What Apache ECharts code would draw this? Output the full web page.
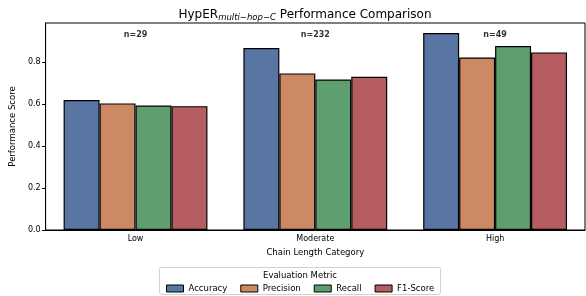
<!DOCTYPE html>
<html lang="en">
<head>
    <meta charset="UTF-8">
    <title>HypER multi-hop-C Performance Comparison</title>
    <script src="https://cdn.jsdelivr.net/npm/echarts@6.0.0/dist/echarts.min.js"></script>
    <style>
        html, body { margin: 0; padding: 0; background: #fff; }
        #chart { width: 586px; height: 296px; }
    </style>
</head>
<body>
    <div id="chart"></div>
    <script>
        // data
        const categories = ['Low', 'Moderate', 'High'];
        const sampleCounts = ['n=29', 'n=232', 'n=49'];
        const metrics = ['Accuracy', 'Precision', 'Recall', 'F1-Score'];
        const accuracy = [0.619, 0.867, 0.938];
        const precision = [0.603, 0.746, 0.822];
        const recall = [0.593, 0.717, 0.876];
        const f1Score = [0.590, 0.730, 0.846];
        const yTicks = [0, 0.2, 0.4, 0.6, 0.8];
        const countLabelY = [0.93, 0.93, 0.93];

        const colors = ['#5975a4', '#cc8963', '#5f9e6e', '#b55d60'];
        const font = 'DejaVu Sans';
        const seriesValues = [accuracy, precision, recall, f1Score];

        const myChart = echarts.init(document.getElementById('chart'));

        const barSeries = metrics.map((name, i) => ({
            name: name,
            type: 'bar',
            data: seriesValues[i],
            barGap: '0%',
            barCategoryGap: '20%',
            itemStyle: { color: colors[i], borderColor: '#000', borderWidth: 1.2 }
        }));

        const option = {
            animation: false,
            textStyle: { fontFamily: font },
            title: {
                text: '{a|HypER}{s|multi−hop−C}{a| Performance Comparison}',
                left: 300,
                top: 2,
                textAlign: 'center',
                textStyle: {
                    fontWeight: 'normal',
                    rich: {
                        a: { fontSize: 12, fontFamily: font, fontWeight: 'normal', color: '#000' },
                        s: { fontSize: 8.5, fontFamily: font, fontStyle: 'italic', fontWeight: 'normal', color: '#000', verticalAlign: 'bottom', padding: [6, 0, 0, 0] }
                    }
                }
            },
            grid: {
                left: 45, right: 1, top: 23, bottom: 66,
                show: true, borderColor: '#000', borderWidth: 1
            },
            legend: {
                data: metrics,
                left: 161,
                top: 279,
                icon: 'rect',
                itemWidth: 17,
                itemHeight: 7,
                itemGap: 13,
                itemStyle: { borderColor: '#000', borderWidth: 1 },
                textStyle: { fontSize: 8.5, fontFamily: font, color: '#000' }
            },
            xAxis: {
                type: 'category',
                data: categories,
                name: 'Chain Length Category',
                nameLocation: 'middle',
                nameGap: 17,
                nameTextStyle: { fontSize: 8.5, color: '#000' },
                axisLine: { lineStyle: { color: '#000' } },
                axisTick: { alignWithLabel: true, length: 3.5, lineStyle: { color: '#000' } },
                axisLabel: { fontSize: 8, color: '#000', margin: 5 }
            },
            yAxis: {
                type: 'value',
                min: 0,
                max: 0.986,
                name: 'Performance Score',
                nameLocation: 'middle',
                nameGap: 26,
                nameTextStyle: { fontSize: 8.5, color: '#000' },
                splitLine: { show: false },
                axisLine: { show: true, lineStyle: { color: '#000' } },
                axisTick: { show: true, length: 3.5, customValues: yTicks, lineStyle: { color: '#000' } },
                axisLabel: {
                    fontSize: 8, color: '#000', margin: 5,
                    customValues: yTicks,
                    formatter: v => v.toFixed(1)
                }
            },
            graphic: [
                {
                    type: 'rect',
                    shape: { x: 159.5, y: 267.5, width: 281, height: 27, r: 2 },
                    style: { fill: '#fff', stroke: '#d0d0d0', lineWidth: 1 },
                    z: -1
                },
                {
                    type: 'text',
                    style: { text: 'Evaluation Metric', x: 300, y: 271, textAlign: 'center', font: '8.5px DejaVu Sans', fill: '#000' }
                }
            ],
            series: barSeries.concat([{
                type: 'scatter',
                data: countLabelY,
                symbolSize: 0,
                silent: true,
                label: {
                    show: true,
                    position: 'inside',
                    formatter: p => sampleCounts[p.dataIndex],
                    fontSize: 8,
                    fontWeight: 'bold',
                    color: '#000'
                },
                z: 10
            }])
        };

        myChart.setOption(option);
    </script>
</body>
</html>
